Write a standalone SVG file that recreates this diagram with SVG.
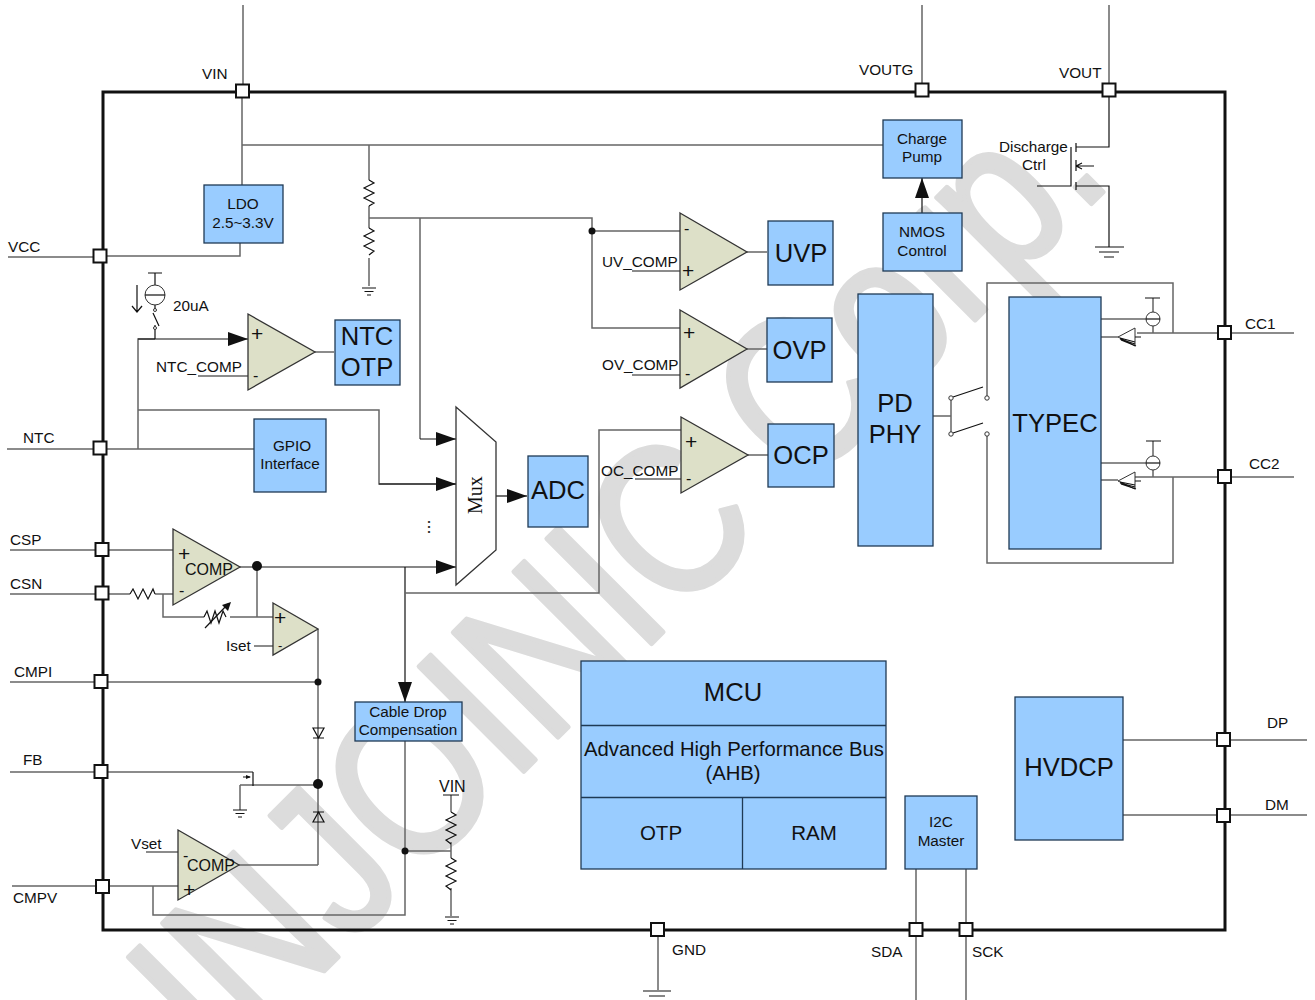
<svg xmlns="http://www.w3.org/2000/svg" width="1315" height="1000" viewBox="0 0 1315 1000">
<style>
text{font-family:"Liberation Sans",Arial,sans-serif;fill:#111}
.wm{font-size:215px;fill:#dcdcdc;stroke:#dcdcdc;stroke-width:5;stroke-linejoin:round}
.w{fill:none;stroke:#333;stroke-width:1.3}
.g{fill:none;stroke:#666;stroke-width:1.5}
.k{fill:none;stroke:#111;stroke-width:1.2}
.b{fill:#99ccff;stroke:#1f3a55;stroke-width:1.3}
.c{fill:#dde0c8;stroke:#333;stroke-width:1.3}
.p{fill:#fff;stroke:#111;stroke-width:2}
.s13{font-size:13px}.s14{font-size:15.300px}.s15{font-size:15.300px}.s16{font-size:16px}
.s26{font-size:25.600px}.s28{font-size:25.600px}.s20{font-size:20.300px}.s21{font-size:20.500px}.pl{font-size:21px}
.m{text-anchor:middle}
.o{fill:#fff;stroke:#333;stroke-width:1}
.d{fill:#111}
</style>
<defs>
<marker id="ar" markerWidth="20" markerHeight="14" refX="20" refY="7" orient="auto" markerUnits="userSpaceOnUse"><path d="M0 0L20 7L0 14z" fill="#111"/></marker>
<g id="gnd"><path class="k" d="M-7 0H7M-4.500 3.500H4.500M-2 7H2"/></g>
</defs>
<text class="wm" transform="translate(221,1074) rotate(-45) scale(.84,1)">INJOINIC Corp.</text>
<g id="frame"><rect x="103" y="92" width="1122" height="838" fill="none" stroke="#111" stroke-width="3"/></g>
<g id="connectors">
<path class="g" d="M243 5V91M922 5V90M1109 5V90M8 257H100M240 243V256H100M7 449H254"/>
<path class="g" d="M242 91V185M242 145H883M369 145V180M369 206V228M369 258V286M369 218H592V328H680M592 231H680M420 218V439M138 449V339H155M138 410H379V484H456"/>
<path class="k" d="M420 439H456" marker-end="url(#ar)"/>
<path class="k" d="M379 484H456" marker-end="url(#ar)"/>
<path class="k" d="M138 339H248" marker-end="url(#ar)"/>
<path class="k" d="M240 567H456" marker-end="url(#ar)"/>
<path class="k" d="M496 496H527" marker-end="url(#ar)"/>
<path class="k" d="M922 213V178" marker-end="url(#ar)"/>
<path class="k" d="M405 567V702" marker-end="url(#ar)"/>
<path class="g" d="M405 593H599V430H681M632 271H680M632 375H680M635 479H681M747 252H767M747 349H767M748 455H768M315 352H334M198 376H248M10 550H173M10 594H130M155 594H173M163 594V617H204M230 617H273M257 567V617M254 646H273M10 682H318M318 629V865M239 865H318M10 772H253M240 785H318M240 785V810M146 852H178M12 886H178M153 886V915H405V741M405 851H451M451 795V812M451 842V858M451 888V916"/>
<path class="g" d="M933 416H951M951 398V434M987 396V283H1173V333M987 436V563H1173V477M1101 319H1146M1153 298V312M1153 326V333M1101 337H1118M1101 463H1146M1153 441V456M1153 470V477M1101 480H1118M1137 333H1294M1135 477H1294"/>
<path class="k" d="M953 397L983 387M953 433L983 423"/>
<path class="g" d="M1123 740H1307M1123 815H1307M916 869V1000M966 869V1000M658 930V990"/>
<path class="k" d="M1109 97V147H1076M1037 186H1071V147M1076 143V152M1076 160V171M1076 182V190M1076 186H1109V247M1076 166H1094M1076 166L1082 163M1076 166L1082 169M1095 247H1124"/>
<path class="k" d="M1099 252H1119M1104 257H1114M643 991H671M649 996H665"/>
<path class="k" d="M369 180l5 3-10 5 10 5-10 5 10 5-5 3M369 228l5 3-10 5 10 5-10 5 10 5-5 4M130 594l3-5 5 10 5-10 5 10 5-10 2 5M204 617l3-6 4 12 4-12 4 12 4-12 3 6M451 812l5 3-10 5 10 5-10 5 10 5-10 5 5 4M451 858l5 3-10 5 10 5-10 5 10 5-10 5 5 4M443 795H459"/>
<path class="k" d="M205 628L228 604"/>
<path d="M231 602l-9 3 6 6z" fill="#111"/>
<path class="k" d="M313 728h11l-5.500 10zM313 738h11M313 822h11l-5.500 -10zM313 812h11"/>
<path class="k" d="M253 772V786M243 777H250"/>
<path d="M246 775l5 2-5 2z" fill="#111"/>
<path class="k" d="M148 273H162M155 273V285M155 304V311M155 325V339M153 313L159 326M137 285V312M132 306L137 312L142 306"/>
<circle class="o" cx="155" cy="295" r="10" fill="none"/><path class="k" d="M145 295H165"/>
<circle class="o" cx="155" cy="310" r="1.500"/><circle class="o" cx="155" cy="328" r="1.500"/>
<use href="#gnd" x="369" y="288"/><use href="#gnd" x="240" y="810"/><use href="#gnd" x="452" y="917"/>
<path class="k" d="M1145 298H1160M1146 441H1161"/>
<circle cx="1153" cy="319" r="7" class="o"/><path class="k" d="M1146 319H1160"/>
<circle cx="1153" cy="463" r="7" class="o"/><path class="k" d="M1146 463H1160"/>
<path class="o" d="M1118 337L1135 328V346z"/>
<path class="k" d="M1120 338L1135 342M1120 339L1135 344M1121 340L1136 346M1135 337H1141"/>
<path class="o" d="M1118 481L1135 472V489z"/>
<path class="k" d="M1120 482L1135 485M1120 483L1135 487M1121 484L1136 489M1135 481H1141"/>
<circle class="o" cx="951" cy="398" r="2.200"/><circle class="o" cx="951" cy="434" r="2.200"/><circle class="o" cx="987" cy="398" r="2.200"/><circle class="o" cx="987" cy="434" r="2.200"/>
<circle class="d" cx="592" cy="231" r="3.500"/><circle class="d" cx="257" cy="566" r="5"/><circle class="d" cx="318" cy="682" r="3.500"/><circle class="d" cx="318" cy="784" r="5"/><circle class="d" cx="405" cy="851" r="3.500"/>
</g>
<g id="pads">
<rect class="p" x="236" y="84.500" width="13" height="13"/><rect class="p" x="915.500" y="83.500" width="13" height="13"/><rect class="p" x="1102.500" y="83.500" width="13" height="13"/><rect class="p" x="93.500" y="249.500" width="13" height="13"/><rect class="p" x="93.500" y="441.500" width="13" height="13"/><rect class="p" x="95.500" y="543" width="13" height="13"/><rect class="p" x="95.500" y="586.500" width="13" height="13"/><rect class="p" x="94.500" y="675" width="13" height="13"/><rect class="p" x="94.500" y="765" width="13" height="13"/><rect class="p" x="96" y="880" width="13" height="13"/><rect class="p" x="1218" y="326" width="13" height="13"/><rect class="p" x="1218" y="470" width="13" height="13"/><rect class="p" x="1217" y="733" width="13" height="13"/><rect class="p" x="1217" y="809" width="13" height="13"/><rect class="p" x="651" y="923" width="13" height="13"/><rect class="p" x="909.500" y="923" width="13" height="13"/><rect class="p" x="959.500" y="923" width="13" height="13"/>
</g>
<g id="ldo"><rect class="b" x="204" y="185" width="79" height="58"/><text class="s15 m" x="243" y="209">LDO</text><text class="s15 m" x="243" y="228">2.5~3.3V</text></g>
<g id="pump"><rect class="b" x="883" y="120" width="79" height="58"/><text class="s15 m" x="922" y="144">Charge</text><text class="s15 m" x="922" y="162">Pump</text></g>
<g id="nmos"><rect class="b" x="883" y="213" width="79" height="58"/><text class="s15 m" x="922" y="237">NMOS</text><text class="s15 m" x="922" y="256">Control</text></g>
<g id="uvp"><rect class="b" x="768" y="221" width="65" height="64"/><text class="s26 m" x="801" y="262">UVP</text></g>
<g id="ovp"><rect class="b" x="767" y="318" width="65" height="64"/><text class="s26 m" x="799.500" y="359">OVP</text></g>
<g id="ocp"><rect class="b" x="768" y="424" width="66" height="63"/><text class="s26 m" x="801" y="464">OCP</text></g>
<g id="ntcotp"><rect class="b" x="335" y="320" width="65" height="65"/><text class="s28 m" x="367" y="345">NTC</text><text class="s28 m" x="367" y="376">OTP</text></g>
<g id="gpio"><rect class="b" x="254" y="419" width="72" height="73"/><text class="s15 m" x="292" y="451">GPIO</text><text class="s15 m" x="290" y="469">Interface</text></g>
<g id="adc"><rect class="b" x="528" y="456" width="60" height="71"/><text class="s26 m" x="558" y="499">ADC</text></g>
<g id="phy"><rect class="b" x="858" y="294" width="75" height="252"/><text class="s26 m" x="895" y="412">PD</text><text class="s26 m" x="895" y="443">PHY</text></g>
<g id="typec"><rect class="b" x="1009" y="297" width="92" height="252"/><text class="s28 m" x="1055" y="432">TYPEC</text></g>
<g id="cable"><rect class="b" x="355" y="702" width="107" height="39"/><text class="s15 m" x="408" y="717">Cable Drop</text><text class="s15 m" x="408" y="735">Compensation</text></g>
<g id="mcu"><rect class="b" x="581" y="661" width="305" height="208"/><path d="M581 725.500H886M581 797.500H886M742.500 797.500V869" fill="none" stroke="#1f3a55" stroke-width="1.300"/><text class="s26 m" x="733" y="701">MCU</text><text class="s20 m" x="734" y="756">Advanced High Performance Bus</text><text class="s20 m" x="733" y="780">(AHB)</text><text class="s21 m" x="661" y="840">OTP</text><text class="s21 m" x="814" y="840">RAM</text></g>
<g id="i2c"><rect class="b" x="905" y="796" width="72" height="73"/><text class="s15 m" x="941" y="827">I2C</text><text class="s15 m" x="941" y="846">Master</text></g>
<g id="hvdcp"><rect class="b" x="1015" y="697" width="108" height="143"/><text class="s26 m" x="1069" y="776">HVDCP</text></g>
<g id="mux"><polygon points="456,407 496,442 496,550 456,585" fill="#fff" stroke="#333" stroke-width="1.300"/><text transform="translate(482,514) rotate(-90)" style="font-family:'Liberation Serif',serif;font-size:20px">Mux</text></g>
<g id="cmp-uv"><polygon class="c" points="680,213 747,252 680,290"/><text class="s16" x="684" y="234">-</text><text class="pl" x="682" y="278">+</text></g>
<g id="cmp-ov"><polygon class="c" points="680,310 747,349 680,388"/><text class="pl" x="683" y="340">+</text><text class="s16" x="685" y="379">-</text></g>
<g id="cmp-oc"><polygon class="c" points="681,417 748,455 681,493"/><text class="pl" x="685" y="449">+</text><text class="s16" x="686" y="484">-</text></g>
<g id="cmp-ntc"><polygon class="c" points="248,314 315,352 248,390"/><text class="pl" x="251" y="341">+</text><text class="s16" x="253" y="381">-</text></g>
<g id="cmp-cs"><polygon class="c" points="173,529 240,567 173,605"/><text class="pl" x="178" y="561">+</text><text class="s16" x="179" y="596">-</text><text class="s16" x="185" y="575">COMP</text></g>
<g id="cmp-iset"><polygon class="c" points="273,603 318,629 273,655"/><text class="pl" x="274" y="625">+</text><text class="s13" x="278" y="650">-</text></g>
<g id="cmp-v"><polygon class="c" points="178,830 239,865 178,900"/><text class="s16" x="183" y="861">-</text><text class="pl" x="183" y="897">+</text><text class="s16" x="187" y="871">COMP</text></g>
<g id="labels" class="s14">
<text x="202" y="79">VIN</text><text x="859" y="75">VOUTG</text><text x="1059" y="78">VOUT</text><text x="8" y="252">VCC</text><text x="23" y="443">NTC</text><text x="10" y="545">CSP</text><text x="10" y="589">CSN</text><text x="14" y="677">CMPI</text><text x="23" y="765">FB</text><text x="13" y="903">CMPV</text><text x="1245" y="329">CC1</text><text x="1249" y="469">CC2</text><text x="1267" y="728">DP</text><text x="1265" y="810">DM</text><text x="672" y="955">GND</text><text x="871" y="957">SDA</text><text x="972" y="957">SCK</text><text x="173" y="311">20uA</text><text x="156" y="372">NTC_COMP</text><text x="602" y="267">UV_COMP</text><text x="602" y="370">OV_COMP</text><text x="601" y="476">OC_COMP</text><text x="226" y="651">Iset</text><text x="131" y="849">Vset</text><text x="439" y="792" style="font-size:16px">VIN</text><text x="999" y="152">Discharge</text><text x="1022" y="170">Ctrl</text>
<text x="428" y="527" class="m" style="font-size:18px" transform="rotate(90 428 527)">...</text>
</g>
</svg>
